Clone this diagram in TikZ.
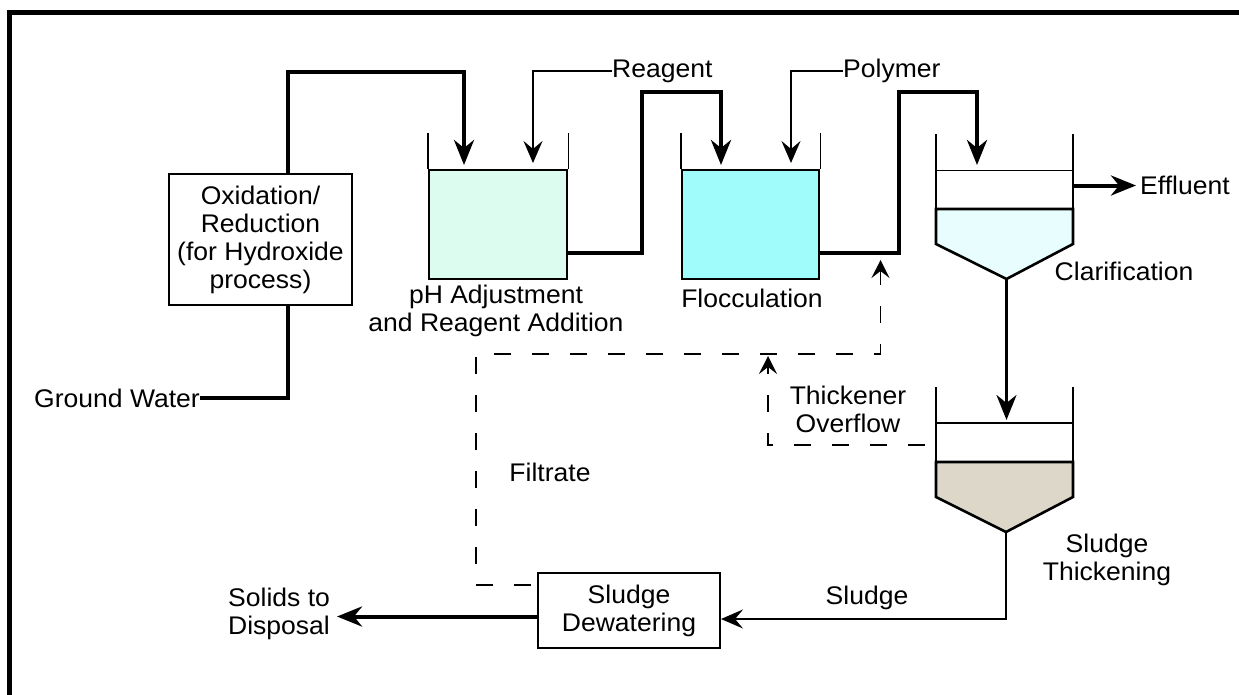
\documentclass[tikz,border=0pt]{standalone}
\usepackage{fontspec}
\setmainfont{Liberation Sans}[FakeStretch=1.04]
\usetikzlibrary{arrows.meta,calc}
\definecolor{mint}{HTML}{DCFCF0}
\definecolor{aqua}{HTML}{A0FCFA}
\definecolor{pale}{HTML}{E8FEFE}
\definecolor{sludgetan}{HTML}{DCD7C8}
\begin{document}
\begin{tikzpicture}[x=1pt,y=-1pt,
  every node/.style={font=\fontsize{25.5}{28}\selectfont, inner sep=0pt, align=center},
  flow/.style={line width=4pt},
  feed/.style={line width=1.6pt},
  wall/.style={line width=1.6pt},
  tank/.style={draw, line width=2.6pt, line join=miter},
  procbox/.style={draw, line width=2pt},
  recyc/.style={line width=1.8pt, dash pattern=on 17pt off 21pt},
  bigtip/.style={-{Stealth[length=25pt,width=20pt,inset=8pt]}},
  thintip/.style={-{Stealth[length=22pt,width=19pt,inset=8pt]}},
  smalltip/.style={-{Stealth[length=18pt,width=18pt,inset=7pt]}},
  ]
\useasboundingbox (0,0) rectangle (1239,694);
\draw[line width=5pt] (9.5,700) -- (9.5,12.5) -- (1245,12.5);

% Oxidation / reduction
\node[procbox, minimum width=183pt, minimum height=131pt] (ox) at (260.5,239.5)
  {Oxidation/\\Reduction\\(for Hydroxide\\process)};
\node[anchor=east] (gw) at (200,398) {Ground Water};
\draw[flow] (gw.east) -| ([xshift=27.5pt]ox.south);

% pH adjustment tank
\node[tank, fill=mint, minimum width=138pt, minimum height=109pt] (ph) at (498,224.5) {};
\draw[wall] (ph.north west) -- ++(0,-36);
\draw[wall] (ph.north east) -- ++(0,-36);
\node (phlab) at (496,311) {pH Adjustment\\and Reagent Addition};
\coordinate (phin1) at (464,165);
\coordinate (phin2) at (533,163);
\draw[flow, bigtip] ([xshift=27.5pt]ox.north) -- ++(0,-101) -| (phin1);
\node[anchor=west] (reag) at (612,71) {Reagent};
\draw[feed, thintip] (reag.west) -| (phin2);

% Flocculation tank
\node[tank, fill=aqua, minimum width=137pt, minimum height=109pt] (floc) at (750.5,224.5) {};
\draw[wall] (floc.north west) -- ++(0,-36);
\draw[wall] (floc.north east) -- ++(0,-36);
\node (floclab) at (752,298) {Flocculation};
\coordinate (j1) at (642,92);
\coordinate (flin1) at (721,165);
\coordinate (flin2) at (791,163);
\draw[flow, bigtip] ($(ph.east)+(0,28)$) -| (j1) -| (flin1);
\node[anchor=west] (poly) at (843,71) {Polymer};
\draw[feed, thintip] (poly.west) -| (flin2);

% Clarifier
\coordinate (j2) at (899,92);
\coordinate (clin) at (977,165);
\draw[flow, bigtip] ($(floc.east)+(0,28)$) -| (j2) -| (clin);
\draw[wall] (936,134) -- (936,209);
\draw[wall] (1073,134) -- (1073,209);
\draw[wall] (936,170.5) -- (1073,170.5);
\draw[tank, fill=pale] (936,209) -- (1073,209) -- (1073,244) -- (1006.5,279) -- (936,244) -- cycle;
\coordinate (clapex) at (1006.5,279);
\coordinate (cleff) at (1073,185.5);
\node[anchor=west] (eff) at (1140,185) {Effluent};
\draw[flow, bigtip] (cleff) -- ($(eff.west)+(-4,0.5)$);
\node (cllab) at (1124,271) {Clarification};

% Thickener
\coordinate (thin) at (1006.5,420);
\draw[line width=3pt, bigtip] (clapex) -- (thin);
\draw[wall] (936,387) -- (936,462);
\draw[wall] (1073,387) -- (1073,462);
\draw[wall] (936,423) -- (1073,423);
\draw[tank, fill=sludgetan] (936,462) -- (1073,462) -- (1073,497) -- (1006,532) -- (936,497) -- cycle;
\coordinate (thapex) at (1006,532);
\node (thlab) at (1107,560) {Sludge\\Thickening};

% Dewatering
\node[procbox, minimum width=182pt, minimum height=75pt] (dew) at (629,610.5) {Sludge\\Dewatering};
\coordinate (slc) at (1006,619);
\draw[feed, thintip] (thapex) -- (slc) -- ($(dew.east)+(0,8.5)$);
\node (sllab) at (867,598) {Sludge};
\node[anchor=west, align=left] (sol) at (228,614) {Solids to\\Disposal};
\coordinate (soltip) at (337,616.5);
\draw[flow, bigtip] ($(dew.west)+(0,6)$) -- (soltip);

% Filtrate recycle
\coordinate (f1) at (476,585);
\coordinate (f2) at (476,354);
\coordinate (f3) at (880.5,354);
\coordinate (f4) at (880.5,260);
\draw[recyc, smalltip] ($(dew.west)+(-6,-25.5)$) -- (f1) -- (f2) -- (f3) -- (f4);
\node (filt) at (550,472) {Filtrate};

% Thickener overflow
\coordinate (o1) at (925,445);
\coordinate (o2) at (768,445);
\coordinate (o3) at (768,356);
\draw[recyc, smalltip] (o1) -- (o2) -- (o3);
\node (ovlab) at (848,409) {Thickener\\Overflow};
\end{tikzpicture}
\end{document}
